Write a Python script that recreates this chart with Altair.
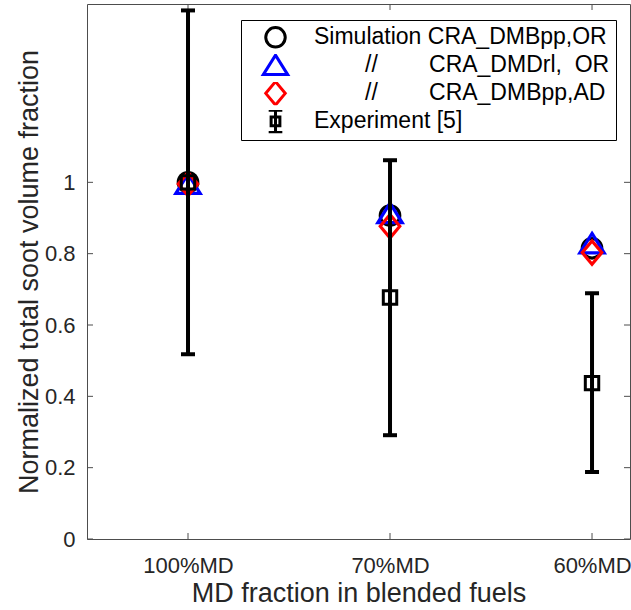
import json
import altair as alt
import pandas as pd

# ---------------- data ----------------
categories = ["100%MD", "70%MD", "60%MD"]
NB = "\u00a0"
ZW = "\u200b"
series_names = [
    "Simulation CRA_DMBpp,OR",
    ZW + NB * 8 + "//" + NB * 8 + "CRA_DMDrl," + NB * 2 + "OR",
    ZW + NB * 8 + "//" + NB * 8 + "CRA_DMBpp,AD",
    "Experiment [5]",
]
sim_dmbpp_or = [1.0, 0.907, 0.815]
sim_dmdrl_or = [0.995, 0.913, 0.828]
sim_dmbpp_ad = [0.995, 0.877, 0.803]
exp_mean = [1.0, 0.677, 0.437]
exp_low = [0.518, 0.291, 0.188]
exp_high = [1.482, 1.062, 0.689]
y_tick_values = [0, 0.2, 0.4, 0.6, 0.8, 1]

# ---------------- tables ----------------
rows = []
for s, vals in zip(series_names[:3], [sim_dmbpp_or, sim_dmdrl_or, sim_dmbpp_ad]):
    for i, (c, v) in enumerate(zip(categories, vals)):
        rows.append({"series": s, "pos": i + 1, "cat": c, "value": v})
sim_df = pd.DataFrame(rows)

exp_df = pd.DataFrame({
    "pos": [i + 1 for i in range(len(categories))],
    "cat": categories,
    "mean": exp_mean,
    "low": exp_low,
    "high": exp_high,
})
ytick_df = pd.DataFrame({"v": y_tick_values})
xtick_df = pd.DataFrame({"pos": [i + 1 for i in range(len(categories))]})

W, H = 543, 535
FONT = "Liberation Sans"
FRAME = "#4d4d4d"
TXT = "#262626"

shapes = [
    "circle",
    "M0,-1.05L1.25,0.95L-1.25,0.95Z",
    "M0,-1.2L1,0L0,1.2L-1,0Z",
    "M-0.7,-1.15H0.7M0,-1.15V1.15M-0.7,1.15H0.7M-0.45,-0.45H0.45V0.45H-0.45Z",
]
colors = ["#000000", "#0000ff", "#ff0000", "#000000"]

x_domain = [0.5, 3.188]
y_domain = [0, 1.5]
xs = alt.Scale(domain=x_domain, nice=False, zero=False)
ys = alt.Scale(domain=y_domain, nice=False, zero=False)

label_expr = json.dumps(categories) + "[datum.value - 1]"

x_axis = alt.Axis(
    values=[1, 2, 3], labelExpr=label_expr, ticks=False, domain=False, grid=False,
    labelPadding=33, labelBaseline="alphabetic", labelFontSize=22,
    title="MD fraction in blended fuels", titleFontSize=27, titleY=62, titleX=W / 2,
    titleBaseline="alphabetic", titleAlign="center",
)
y_axis = alt.Axis(
    values=y_tick_values, format="~g", ticks=False, domain=False, grid=False,
    labelPadding=12, labelFontSize=22,
    title="Normalized total soot volume fraction", titleFontSize=27,
    titleX=-50, titleY=H / 2, titleBaseline="alphabetic", titleAlign="center", titleAngle=-90,
)

sim = alt.Chart(sim_df).mark_point(filled=False, size=380, strokeWidth=3.2, opacity=1).encode(
    x=alt.X("pos:Q", scale=xs, axis=x_axis),
    y=alt.Y("value:Q", scale=ys, axis=y_axis),
    shape=alt.Shape("series:N", scale=alt.Scale(domain=series_names, range=shapes), legend=alt.Legend(title=None)),
    color=alt.Color("series:N", scale=alt.Scale(domain=series_names, range=colors), legend=alt.Legend(title=None)),
)

err = alt.Chart(exp_df).mark_rule(color="black", strokeWidth=4).encode(
    x=alt.X("pos:Q", scale=xs), y=alt.Y("low:Q", scale=ys), y2="high:Q"
)
cap_lo = alt.Chart(exp_df).mark_tick(color="black", orient="horizontal", size=14, thickness=4, opacity=1).encode(
    x=alt.X("pos:Q", scale=xs), y=alt.Y("low:Q", scale=ys)
)
cap_hi = alt.Chart(exp_df).mark_tick(color="black", orient="horizontal", size=14, thickness=4, opacity=1).encode(
    x=alt.X("pos:Q", scale=xs), y=alt.Y("high:Q", scale=ys)
)
sq = alt.Chart(exp_df).mark_point(shape="square", filled=False, size=180, strokeWidth=3, color="black", opacity=1).encode(
    x=alt.X("pos:Q", scale=xs), y=alt.Y("mean:Q", scale=ys)
)

# inward tick marks on all four sides
yt_l = alt.Chart(ytick_df).mark_rule(color=FRAME, strokeWidth=1).encode(
    y=alt.Y("v:Q", scale=ys), x=alt.value(0), x2=alt.value(6))
yt_r = alt.Chart(ytick_df).mark_rule(color=FRAME, strokeWidth=1).encode(
    y=alt.Y("v:Q", scale=ys), x=alt.value(W - 6), x2=alt.value(W))
xt_b = alt.Chart(xtick_df).mark_rule(color=FRAME, strokeWidth=1).encode(
    x=alt.X("pos:Q", scale=xs), y=alt.value(H - 6), y2=alt.value(H))
xt_t = alt.Chart(xtick_df).mark_rule(color=FRAME, strokeWidth=1).encode(
    x=alt.X("pos:Q", scale=xs), y=alt.value(0), y2=alt.value(6))

chart = alt.layer(yt_l, yt_r, xt_b, xt_t, sim, err, cap_lo, cap_hi, sq).properties(
    width=W, height=H,
    autosize=alt.AutoSizeParams(type="none"),
    padding={"left": 87, "top": 4, "right": 1, "bottom": 71},
).configure_view(
    stroke=FRAME, strokeWidth=1,
).configure_axis(
    labelFont=FONT, titleFont=FONT, labelColor=TXT, titleColor=TXT, titleFontWeight="normal",
).configure_legend(
    orient="none", legendX=154, legendY=16, strokeColor="black", fillColor="white",
    padding=6, labelFont=FONT, labelFontSize=23, labelColor="black", labelLimit=0,
    symbolSize=380, symbolStrokeWidth=3, symbolOffset=17, labelOffset=27, rowPadding=4,
    clipHeight=22.7, cornerRadius=0,
)

chart.save("out.html", embed_options={"renderer": "svg", "actions": False})
